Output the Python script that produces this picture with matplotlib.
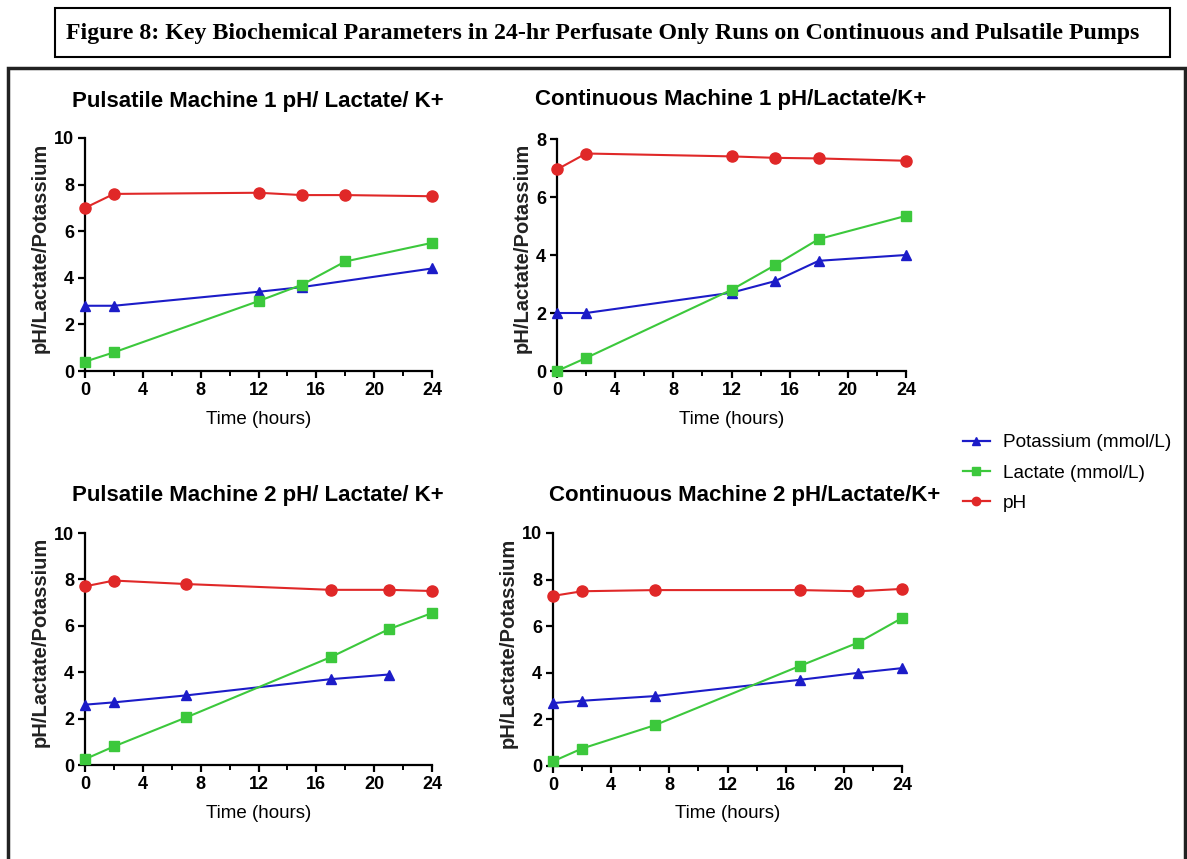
import matplotlib
matplotlib.use("Agg")
import numpy as np
from matplotlib import pyplot as plt
from matplotlib.lines import Line2D
from matplotlib.patches import Rectangle

plt.rcParams['font.family'] = ['Liberation Sans', 'DejaVu Sans']

W, H = 1187, 859

# data
p1_time = [0, 2, 12, 15, 18, 24]
p1_ph = [7.0, 7.6, 7.65, 7.55, 7.55, 7.5]
p1_lac = [0.4, 0.8, 3.0, 3.7, 4.7, 5.5]
p1_k_time = [0, 2, 12, 15, 24]
p1_k = [2.8, 2.8, 3.4, 3.6, 4.4]

c1_time = [0, 2, 12, 15, 18, 24]
c1_ph = [6.95, 7.5, 7.4, 7.35, 7.33, 7.25]
c1_lac = [0.0, 0.45, 2.8, 3.65, 4.55, 5.35]
c1_k_time = [0, 2, 12, 15, 18, 24]
c1_k = [2.0, 2.0, 2.7, 3.1, 3.8, 4.0]

p2_time = [0, 2, 7, 17, 21, 24]
p2_ph = [7.7, 7.95, 7.8, 7.55, 7.55, 7.5]
p2_lac = [0.25, 0.8, 2.05, 4.65, 5.85, 6.55]
p2_k_time = [0, 2, 7, 17, 21]
p2_k = [2.6, 2.7, 3.0, 3.7, 3.9]

c2_time = [0, 2, 7, 17, 21, 24]
c2_ph = [7.3, 7.5, 7.55, 7.55, 7.5, 7.6]
c2_lac = [0.2, 0.75, 1.75, 4.3, 5.3, 6.35]
c2_k_time = [0, 2, 7, 17, 21, 24]
c2_k = [2.7, 2.8, 3.0, 3.7, 4.0, 4.2]

titles = ["Pulsatile Machine 1 pH/ Lactate/ K+", "Continuous Machine 1 pH/Lactate/K+",
          "Pulsatile Machine 2 pH/ Lactate/ K+", "Continuous Machine 2 pH/Lactate/K+"]
series_names = ["Potassium (mmol/L)", "Lactate (mmol/L)", "pH"]

BLUE = '#1c1cc8'
GREEN = '#3cc83c'
RED = '#e02828'


def px_axes(fig, x0, x1, y_top, y_bot):
    return fig.add_axes([x0 / W, 1 - y_bot / H, (x1 - x0) / W, (y_bot - y_top) / H])


def draw_panel(ax, t, ph, lac, kt, k, ymax, title, title_xy, ylab_x):
    ax.plot(kt, k, color=BLUE, marker='^', ms=7.5, lw=1.5, clip_on=False, zorder=3)
    ax.plot(t, lac, color=GREEN, marker='s', ms=7.5, lw=1.5, clip_on=False, zorder=4)
    ax.plot(t, ph, color=RED, marker='o', ms=8, lw=1.5, clip_on=False, zorder=5)
    ax.set_xlim(0, 24)
    ax.set_ylim(0, ymax)
    ax.set_xticks(range(0, 25, 4))
    ax.set_xticks(range(2, 24, 4), minor=True)
    ax.set_yticks(range(0, ymax + 1, 2))
    for s in ['top', 'right']:
        ax.spines[s].set_visible(False)
    for s in ['left', 'bottom']:
        ax.spines[s].set_linewidth(1.6)
    ax.tick_params(which='major', length=5, width=1.6, labelsize=13, pad=3)
    ax.tick_params(which='minor', length=3.5, width=1.4)
    for lab in ax.get_xticklabels() + ax.get_yticklabels():
        lab.set_fontweight('bold')
    ax.set_xlabel("Time (hours)", fontsize=13.5)
    ax.set_ylabel("pH/Lactate/Potassium", fontsize=14.5, fontweight='bold', color='#222222')
    bbox = ax.get_position()
    ax.xaxis.set_label_coords(0.5, -48 / (bbox.height * H), transform=ax.transAxes)
    ax.yaxis.set_label_coords(ylab_x / (bbox.width * W), 0.53, transform=ax.transAxes)
    ax.xaxis.label.set_va('center')
    ax.yaxis.label.set_va('center')
    ax.figure.text(title_xy[0] / W, 1 - title_xy[1] / H, title, fontsize=16,
                   fontweight='bold', ha='center', va='center')


fig = plt.figure(figsize=(W / 100, H / 100), dpi=100)

# title box and outer frame
fig.patches.append(Rectangle((55 / W, 1 - 57 / H), 1115 / W, 49 / H, transform=fig.transFigure,
                             fill=False, lw=1.5, ec='black'))
fig.text(603 / W, 1 - 33 / H,
         "Figure 8: Key Biochemical Parameters in 24-hr Perfusate Only Runs on Continuous and Pulsatile Pumps",
         family='Liberation Serif', fontweight='bold', fontsize=17.2, ha='center', va='center')
fig.patches.append(Rectangle((8 / W, -0.05), 1177 / W, 1 - 68 / H + 0.05, transform=fig.transFigure,
                             fill=False, lw=2.5, ec='#222222'))

ax1 = px_axes(fig, 85, 432, 138, 371)
draw_panel(ax1, p1_time, p1_ph, p1_lac, p1_k_time, p1_k, 10, titles[0], (258, 102), -45)
ax2 = px_axes(fig, 557, 906, 139, 371)
draw_panel(ax2, c1_time, c1_ph, c1_lac, c1_k_time, c1_k, 8, titles[1], (731, 100), -35)
ax3 = px_axes(fig, 85, 432, 533, 765)
draw_panel(ax3, p2_time, p2_ph, p2_lac, p2_k_time, p2_k, 10, titles[2], (258, 495), -45)
ax4 = px_axes(fig, 553, 902, 533, 766)
draw_panel(ax4, c2_time, c2_ph, c2_lac, c2_k_time, c2_k, 10, titles[3], (745, 495), -45)

handles = [Line2D([], [], color=BLUE, marker='^', ms=6, lw=1.6),
           Line2D([], [], color=GREEN, marker='s', ms=6, lw=1.6),
           Line2D([], [], color=RED, marker='o', ms=6, lw=1.6)]
fig.legend(handles, series_names, loc='upper left', bbox_to_anchor=(963 / W, 1 - 434 / H),
           frameon=False, fontsize=13.7, handlelength=1.4, labelspacing=0.68, handletextpad=0.7,
           borderaxespad=0, borderpad=0)

fig.savefig("out.png", dpi=100)
